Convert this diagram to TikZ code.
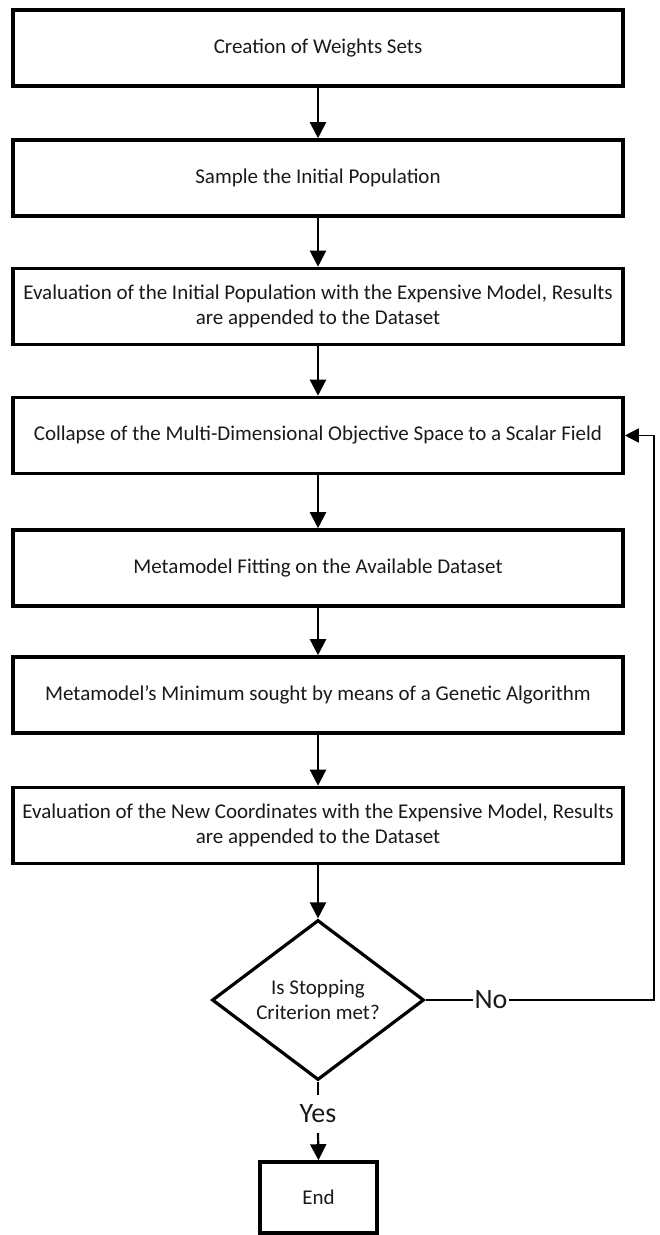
\documentclass[tikz,border=0pt]{standalone}
\usepackage{fontspec}
\setmainfont{Carlito}
\usetikzlibrary{shapes.geometric,arrows.meta}
\definecolor{txt}{HTML}{1A1A1A}
\tikzset{
  procbox/.style={draw=black, line width=3.6pt, fill=white, minimum width=610pt, minimum height=76pt, inner sep=0pt, align=center, text=txt, font=\fontsize{21}{24.5}\selectfont},
  flowarrow/.style={line width=2.2pt, -{Triangle[width=16pt,length=16pt]}},
  flowline/.style={line width=2.2pt},
  backline/.style={line width=1.7pt},
  bigtxt/.style={text=txt, font=\fontsize{28}{30}\selectfont, inner sep=1pt},
}
\begin{document}
\begin{tikzpicture}[x=1pt,y=-1pt]
\useasboundingbox (0,0) rectangle (660,1235);
\node[procbox] (b1) at (318,48) {Creation of Weights Sets};
\node[procbox] (b2) at (318,178) {Sample the Initial Population};
\node[procbox] (b3) at (318,306.5) {Evaluation of the Initial Population with the Expensive Model, Results\\are appended to the Dataset};
\node[procbox] (b4) at (318,435.5) {Collapse of the Multi-Dimensional Objective Space to a Scalar Field};
\node[procbox] (b5) at (318,568) {Metamodel Fitting on the Available Dataset};
\node[procbox] (b6) at (318,695) {Metamodel's Minimum sought by means of a Genetic Algorithm};
\node[procbox] (b7) at (318,825.5) {Evaluation of the New Coordinates with the Expensive Model, Results\\are appended to the Dataset};
\node[diamond, draw=black, line width=3.2pt, fill=white, aspect=1.33, minimum width=212pt, minimum height=160pt, inner sep=0pt, align=center, text=txt, font=\fontsize{21}{24.5}\selectfont] (d) at (318,1000) {Is Stopping\\Criterion met?};
\node[bigtxt] (no) at (491,1000) {No};
\node[bigtxt, minimum height=38pt] (yes) at (318,1114) {Yes};
\node[procbox, minimum width=117pt, minimum height=71pt] (end) at (318.5,1197.5) {End};
\coordinate (fb) at (654,1000);
\draw[flowarrow] (b1.south) -- (b2.north);
\draw[flowarrow] (b2.south) -- (b3.north);
\draw[flowarrow] (b3.south) -- (b4.north);
\draw[flowarrow] (b4.south) -- (b5.north);
\draw[flowarrow] (b5.south) -- (b6.north);
\draw[flowarrow] (b6.south) -- (b7.north);
\draw[flowarrow] (b7.south) -- (d.north);
\draw[backline] (d.east) -- (no.west);
\draw[backline, -{Triangle[width=14pt,length=14pt]}] (no.east) -- (fb) |- (b4.east);
\draw[flowline] (d.south) -- (yes.north);
\draw[flowarrow] (yes.south) -- (end.north);
\end{tikzpicture}
\end{document}
